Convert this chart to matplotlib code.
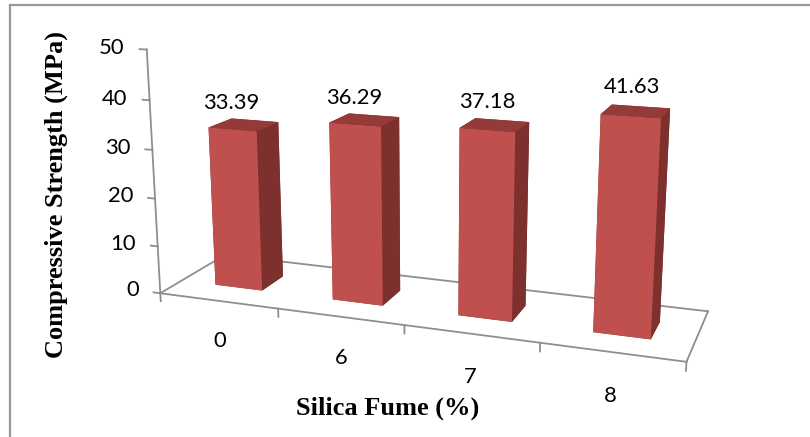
import numpy as np
import matplotlib
matplotlib.use('Agg')
import matplotlib.pyplot as plt
from matplotlib.patches import Rectangle
from mpl_toolkits.mplot3d import proj3d

# data
fume = ['0', '6', '7', '8']
strength = [33.39, 36.29, 37.18, 41.63]
yticks = [0, 10, 20, 30, 40, 50]

front_col = '#C0504D'
top_col = '#943A38'
side_col = '#7D302E'
line_col = '#8E8E8E'
num_font = 'Lato'
title_font = 'Liberation Serif'

W, H = 810, 437
fig = plt.figure(figsize=(W / 100, H / 100), dpi=100)

# 3d axes, view matched to the excel perspective chart
L, B, S = 119.9, -52.8, 601.3   # square axes box in pixels
ax = fig.add_axes([L / W, B / H, S / W, S / H], projection='3d', computed_zorder=False)
ax.view_init(elev=14.455, azim=-70.164)
ax.set_proj_type('persp', focal_length=0.3928)
ax.set_box_aspect((1, 0.2552, 0.4692))
ax.set_xlim(0, 4)
ax.set_ylim(0, 1)
ax.set_zlim(0, 50)
ax.set_axis_off()

M = ax.get_proj()


def label(x, y, z, s, **kw):
    # put a flat text at the projected spot of a 3d point
    px, py, _ = proj3d.proj_transform(x, y, z, M)
    ax.text2D(px, py, s, transform=ax.transData, fontsize=15.8, family=num_font, **kw)


# bars: x offset in category, width, depth start, depth
xo, bw, by, bd = 0.299, 0.406, 0.314, 0.353
n = len(strength)
faces = [side_col, top_col, front_col, side_col, side_col, side_col] * n
ax.bar3d(np.arange(n) + xo, np.full(n, by), np.zeros(n), bw, bd, strength,
         color=faces, shade=False, zorder=2)

# floor outline
ax.plot([0, 0], [0, 1], [0, 0], color=line_col, lw=1.3, zorder=1)
ax.plot([0, 4], [1, 1], [0, 0], color=line_col, lw=1.3, zorder=1)
ax.plot([0, 4], [0, 0], [0, 0], color=line_col, lw=1.3, zorder=3)
ax.plot([4, 4], [0, 1], [0, 0], color=line_col, lw=1.3, zorder=3)

# value axis
ax.plot([0, 0], [0, 0], [0, 50], color=line_col, lw=1.3, zorder=3)
for v in yticks:
    ax.plot([0, -0.06], [0, 0], [v, v], color=line_col, lw=1.3, zorder=3)
    label(-0.19, 0, v, str(v), ha='right', va='center')

# category ticks and labels
for i in range(n + 1):
    ax.plot([i, i], [0, 0], [0, -1.7], color=line_col, lw=1.3, zorder=3)
for i, lab in enumerate(fume):
    label(i + 0.5, 0, -8.6, lab, ha='center', va='center')

# data labels, centred over the front face
for i, v in enumerate(strength):
    label(i + xo + bw / 2, by, v + 5.3, f'{v:.2f}', ha='center', va='center')

ax.set_xlim(0, 4)
ax.set_ylim(0, 1)
ax.set_zlim(0, 50)

# titles
fig.text(388 / W, 1 - 408 / H, 'Silica Fume (%)', ha='center', va='center',
         fontsize=19, fontweight='bold', family=title_font)
fig.text(56 / W, 1 - 195 / H, 'Compressive Strength (MPa)', ha='center', va='center',
         rotation=90, fontsize=19, fontweight='bold', family=title_font)

# chart border (cut off on the right and bottom)
fig.add_artist(Rectangle((9.5 / W, -0.1), 1.2, 1.1 - 5 / H, transform=fig.transFigure,
                         fill=False, ec='#999999', lw=1.6))

fig.savefig('out.png', dpi=100)
